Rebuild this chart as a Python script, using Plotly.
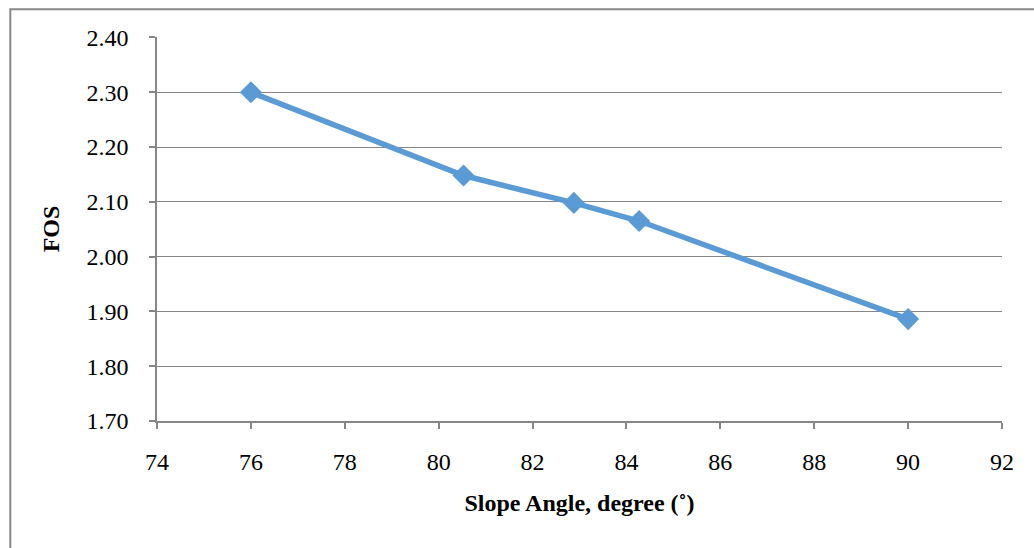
import plotly.graph_objects as go

slope_angle = [76.0, 80.53, 82.88, 84.27, 90.0]
fos = [2.30, 2.148, 2.098, 2.065, 1.886]

x_ticks = [74, 76, 78, 80, 82, 84, 86, 88, 90, 92]
y_ticks = [1.70, 1.80, 1.90, 2.00, 2.10, 2.20, 2.30, 2.40]
y_labels = ["%.2f" % v for v in y_ticks]

W, H = 1034, 548
L, R, T, B = 156.7, 32.3, 36.7, 127
pw = W - L - R
ph = H - T - B

fig = go.Figure()
fig.add_trace(go.Scatter(
    x=slope_angle, y=fos, mode="lines+markers",
    line=dict(color="#5B9BD5", width=5.5),
    marker=dict(symbol="diamond", size=17, color="#5B9BD5"),
    showlegend=False, cliponaxis=False,
))

font_family = "Liberation Serif"
fig.update_layout(
    width=W, height=H,
    margin=dict(l=L, r=R, t=T, b=B, autoexpand=False),
    paper_bgcolor="white", plot_bgcolor="white",
    font=dict(family=font_family, size=24, color="black"),
    xaxis=dict(
        range=[74, 92], tickmode="array", tickvals=x_ticks,
        ticks="outside", ticklen=6, tickcolor="#868686", tickwidth=1.5,
        ticklabelstandoff=12,
        showline=True, linecolor="#868686", linewidth=2,
        showgrid=False, zeroline=False,
        tickfont=dict(size=24, family=font_family, color="black"),
        title=dict(text="<b>Slope Angle, degree (˚)</b>", standoff=20,
                   font=dict(size=24, family=font_family, color="black")),
    ),
    yaxis=dict(
        range=[1.70, 2.4008], tickmode="array", tickvals=y_ticks, ticktext=y_labels,
        ticks="outside", ticklen=6, tickcolor="#868686", tickwidth=1.5,
        ticklabelstandoff=16,
        showline=True, linecolor="#868686", linewidth=1.5,
        showgrid=True, gridcolor="#868686", gridwidth=1.3,
        zeroline=False,
        tickfont=dict(size=24, family=font_family, color="black"),
        title=dict(text="<b>FOS</b>", standoff=20,
                   font=dict(size=24, family=font_family, color="black")),
    ),
    shapes=[dict(
        type="rect", xref="paper", yref="paper",
        x0=(10 - L) / pw, x1=(W + 20 - L) / pw,
        y0=(H - B - (H + 20)) / ph, y1=(H - B - 9) / ph,
        line=dict(color="#888888", width=2), fillcolor="rgba(0,0,0,0)",
        layer="below",
    )],
)

fig.write_html("out.html")
